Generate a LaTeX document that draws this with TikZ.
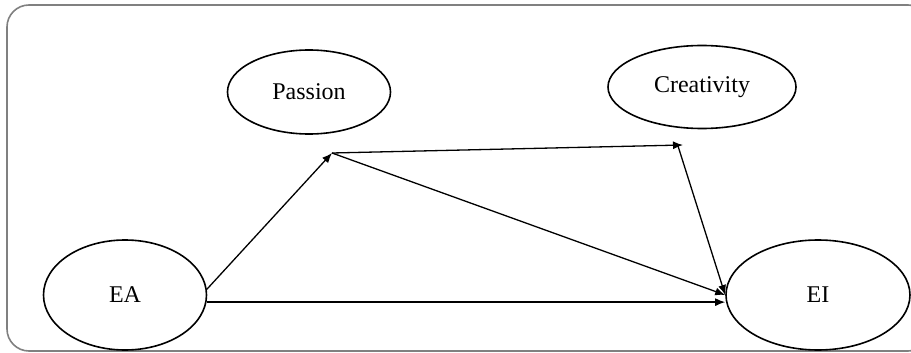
\documentclass[tikz,border=0pt]{standalone}
\usepackage{fontspec}
\setmainfont{Liberation Serif}
\usetikzlibrary{shapes.geometric,arrows.meta}
\tikzset{
  latent/.style={ellipse,draw,line width=1.6pt,inner sep=0pt},
  arr/.style={line width=1.3pt,-{Latex[length=10pt,width=8pt]}}
}
\begin{document}
\begin{tikzpicture}[x=1pt,y=-1pt]
\useasboundingbox (0,0) rectangle (911,353);
% frame
\draw[gray,line width=1.6pt,rounded corners=22pt] (7,5) rectangle (930,351);
% constructs
\begin{scope}[font=\fontsize{24}{28}\selectfont]
\node[latent,minimum width=163pt,minimum height=84pt] (passion) at (309,92) {Passion};
\node[latent,minimum width=188pt,minimum height=83pt] (creat) at (702,87) {Creativity};
\node[latent,minimum width=163pt,minimum height=110pt] (ea) at (125,295) {EA};
\node[latent,minimum width=184pt,minimum height=110pt] (ei) at (818,295) {EI};
\end{scope}
\coordinate (hub) at (332,153);
\coordinate (ctop) at (683,145);
% paths
\draw[arr] (ea.4) -- (hub);
\draw[arr] (hub) -- (ctop);
\draw[arr] (hub) -- (ei.west);
\draw[arr] ([xshift=-5pt,yshift=-1pt]ctop) -- (ei.west);
\draw[arr] (ea.-5) -- (ea.-5 -| ei.west);
\end{tikzpicture}
\end{document}
